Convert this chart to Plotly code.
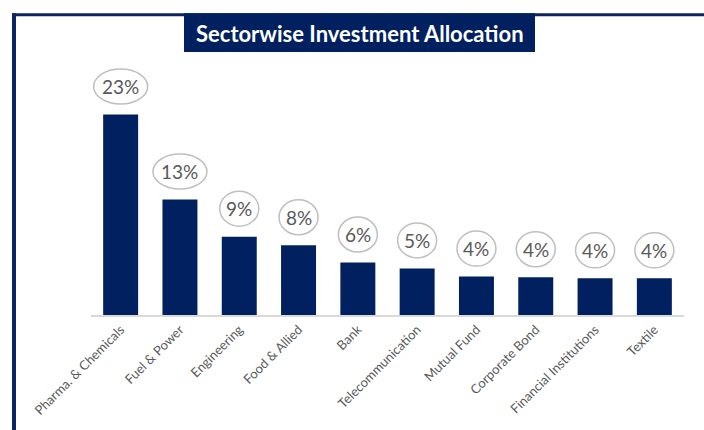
import plotly.graph_objects as go

# Sector allocation (% of portfolio)
sectors = [
    "Pharma. & Chemicals", "Fuel & Power", "Engineering", "Food & Allied", "Bank",
    "Telecommunication", "Mutual Fund", "Corporate Bond", "Financial Institutions", "Textile",
]
allocation = [23.0, 13.24, 8.99, 8.0, 6.03, 5.35, 4.41, 4.33, 4.21, 4.21]

NAVY = "#002060"
FRAME = "#0c2461"
LABEL_GREY = "#595959"

W, H = 704, 430
ML, MR, MT, MB = 91, 20, 60, 113
PW, PH = W - ML - MR, H - MT - MB


def px_x(px):
    return (px - ML) / PW


def px_y(py):
    return (H - MB - py) / PH


fig = go.Figure(
    go.Bar(
        x=list(range(len(sectors))),
        y=allocation,
        marker=dict(color=NAVY, line=dict(width=0)),
        hoverinfo="skip",
    )
)

shapes = []
annotations = []

# Rounded value badges above each bar
for i, v in enumerate(allocation):
    label = f"{v:.0f}%"
    half_w = 27 if len(label) > 2 else 19.5
    shapes.append(dict(
        type="circle", xref="x", yref="y",
        xsizemode="pixel", ysizemode="pixel",
        xanchor=i, yanchor=v,
        x0=-half_w, x1=half_w, y0=10.5, y1=45.5,
        line=dict(color="#bfbfbf", width=1.5),
        fillcolor="white", layer="above",
    ))
    annotations.append(dict(
        x=i, y=v, xref="x", yref="y", yshift=28,
        text=label, showarrow=False, yanchor="middle",
        font=dict(family="Lato, sans-serif", size=19, color=LABEL_GREY),
    ))

# Panel frame: top and left rules
shapes.append(dict(type="line", xref="paper", yref="paper",
                   x0=px_x(12), x1=px_x(704), y0=px_y(14.5), y1=px_y(14.5),
                   line=dict(color=FRAME, width=3), layer="above"))
shapes.append(dict(type="line", xref="paper", yref="paper",
                   x0=px_x(14), x1=px_x(14), y0=px_y(13), y1=px_y(440),
                   line=dict(color=FRAME, width=4), layer="above"))

# Title banner
shapes.append(dict(type="rect", xref="paper", yref="paper",
                   x0=px_x(184), x1=px_x(535), y0=px_y(52), y1=px_y(13),
                   fillcolor=NAVY, line=dict(width=0), layer="above"))
annotations.append(dict(
    xref="paper", yref="paper", x=px_x(359.5), y=px_y(33.5),
    text="<b>Sectorwise Investment Allocation</b>", showarrow=False,
    xanchor="center", yanchor="middle",
    font=dict(family="Lato, sans-serif", size=22, color="white"),
))

fig.update_layout(
    width=W, height=H,
    margin=dict(l=ML, r=MR, t=MT, b=MB, pad=0),
    paper_bgcolor="white", plot_bgcolor="white",
    bargap=0.41,
    showlegend=False,
    shapes=shapes,
    annotations=annotations,
    xaxis=dict(
        tickmode="array",
        tickvals=list(range(len(sectors))),
        ticktext=sectors,
        tickangle=-45,
        range=[-0.5, len(sectors) - 0.5],
        showline=True, linecolor="#d9d9d9", linewidth=2,
        showgrid=False, zeroline=False, ticks="",
        tickfont=dict(family="Lato, sans-serif", size=13, color=LABEL_GREY),
        fixedrange=True,
    ),
    yaxis=dict(
        range=[0, PH / (202 / 23.0)],
        visible=False, showgrid=False, zeroline=False,
        fixedrange=True,
    ),
)

fig.write_html("out.html")
